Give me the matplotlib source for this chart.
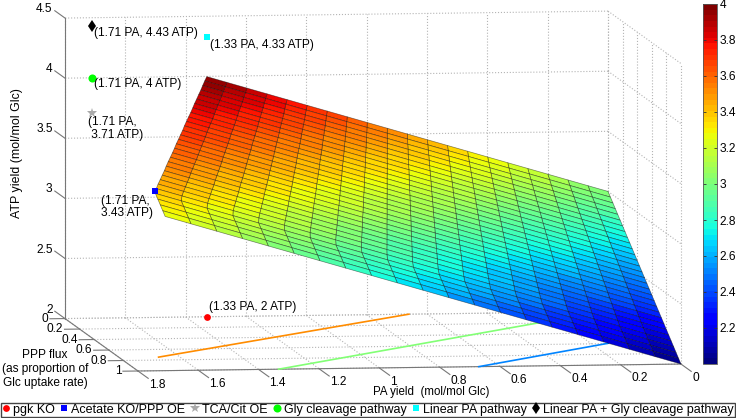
import matplotlib

matplotlib.use("Agg")
import matplotlib.pyplot as plt  # noqa: E402
import numpy as np  # noqa: E402
from mpl_toolkits.mplot3d import proj3d  # noqa: E402

W, H = 736, 418
plt.rcParams["font.family"] = ["Liberation Sans", "DejaVu Sans"]
FS = 8.6
AXIS, GRID = "#777777", "#b4b4b4"

# surface rows, read along the edges of the sheet
ppp_rows = [0, .033, .067, .1, .133, .167, .2, .233, .267, .3, .333, .367, .4, .433, .467, .5,
            .533, .567, .6, .633, .667, .7, .733, .767, .8, .833, .867, .9, .933, .967, 1]
pa_limit = [1.33, 1.345, 1.36, 1.374, 1.389, 1.404, 1.419, 1.433, 1.448, 1.463, 1.478, 1.493,
            1.507, 1.522, 1.537, 1.552, 1.566, 1.581, 1.596, 1.611, 1.626, 1.64, 1.655, 1.67,
            1.685, 1.699, 1.71, 1.71, 1.71, 1.71, 1.71]
atp_at_limit = [3.998, 3.976, 3.953, 3.931, 3.909, 3.886, 3.864, 3.842, 3.819, 3.797, 3.775, 3.753,
                3.73, 3.708, 3.686, 3.664, 3.642, 3.619, 3.597, 3.575, 3.553, 3.53, 3.508, 3.486,
                3.464, 3.441, 3.416, 3.383, 3.35, 3.316, 3.283]
atp_at_zero = [3, 2.967, 2.933, 2.9, 2.867, 2.833, 2.8, 2.767, 2.733, 2.7, 2.667, 2.633, 2.6, 2.567,
               2.533, 2.5, 2.467, 2.433, 2.4, 2.367, 2.333, 2.3, 2.267, 2.233, 2.2, 2.167, 2.133,
               2.1, 2.067, 2.033, 2]

# contours on the floor, only the part the sheet leaves visible
contour_levels = [3.5, 3.0, 2.5]
contour_pa = [[0.66, 1.67], [0.27, 1.334], [0.143, 0.67]]
contour_ppp = [[0.0, 0.745], [0.188, 1.0], [0.593, 1.0]]

point_names = ["pgk KO", "Acetate KO/PPP OE", "TCA/Cit OE", "Gly cleavage pathway",
               "Linear PA pathway", "Linear PA + Gly cleavage pathway"]
point_pa = [1.33, 1.71, 1.71, 1.71, 1.33, 1.71]
point_ppp = [0, 0.857, 0, 0, 0, 0]
point_atp = [2, 3.43, 3.71, 4, 4.33, 4.43]
point_colors = ["#ff0000", "#0000ff", "#aaaaaa", "#00ff00", "#00ffff", "#000000"]
point_markers = ["o", "s", "*", "o", "s", "d"]
point_sizes = [4.9, 4.5, 7, 5.8, 4.7, 6.5]

pa_ticks = [0, 0.2, 0.4, 0.6, 0.8, 1, 1.2, 1.4, 1.6, 1.8]
ppp_ticks = [0, 0.2, 0.4, 0.6, 0.8, 1]
atp_ticks = [2, 2.5, 3, 3.5, 4, 4.5]
cbar_ticks = [2.2, 2.4, 2.6, 2.8, 3, 3.2, 3.4, 3.6, 3.8, 4]


def px(x, y):
    return x / W, 1 - y / H


def fit_axes(ax, left, right, bottom):
    """Move/scale the square 3D axes so the box lands on the wanted pixel edges."""
    cx, cy, cz = zip(*[(a, b, c) for a in (0, 1.8) for b in (0, 1) for c in (2, 4.5)], strict=True)
    xs, ys, _ = proj3d.proj_transform(np.array(cx), np.array(cy), np.array(cz), ax.get_proj())
    ax.apply_aspect()
    pts = ax.transData.transform(np.column_stack([xs, ys]))
    bb = ax.get_position()
    x0, y0, side = bb.x0 * W, bb.y0 * H, bb.width * W
    scale = (right - left) / (pts[:, 0].max() - pts[:, 0].min())
    nx = left - (pts[:, 0].min() - x0) * scale
    ny = bottom - (pts[:, 1].min() - y0) * scale
    ax.set_position([nx / W, ny / H, side * scale / W, side * scale / H])


def tick_label(fig, ax, x, y, z, s, ha):
    """Flat figure text at a 3D position."""
    sx, sy, _ = proj3d.proj_transform(x, y, z, ax.get_proj())
    ax.apply_aspect()
    pos = ax.transData.transform((sx, sy))
    fig.text(pos[0] / W, pos[1] / H, s, ha=ha, va="center", fontsize=FS)


fig = plt.figure(figsize=(W / 100, H / 100), dpi=100)
ax = fig.add_axes([18 / W, -141 / H, 700 / W, 700 / H], projection="3d", computed_zorder=False)
ax.set_proj_type("ortho")
ax.view_init(elev=5.5, azim=82.4)
ax.set_box_aspect((548, 552, 302))
ax.set_xticks([])
ax.set_yticks([])
ax.set_zticks([])
ax.set_axis_off()

# dotted grid on the two walls and the floor
for v in pa_ticks:
    ax.plot([v, v], [0, 0], [2, 4.5], ":", color=GRID, lw=0.8, zorder=1)
    ax.plot([v, v], [0, 1], [2, 2], ":", color=GRID, lw=0.8, zorder=1)
for v in ppp_ticks:
    ax.plot([0, 0], [v, v], [2, 4.5], ":", color=GRID, lw=0.8, zorder=1)
    ax.plot([0, 1.8], [v, v], [2, 2], ":", color=GRID, lw=0.8, zorder=1)
for v in atp_ticks:
    ax.plot([0, 1.8], [0, 0], [v, v], ":", color=GRID, lw=0.8, zorder=1)
    ax.plot([0, 0], [0, 1], [v, v], ":", color=GRID, lw=0.8, zorder=1)

# solid axes and tick marks
ax.plot([1.8, 1.8], [0, 0], [2, 4.5], color=AXIS, lw=0.8, zorder=1.5)
ax.plot([1.8, 1.8], [0, 1], [2, 2], color=AXIS, lw=0.8, zorder=1.5)
ax.plot([0, 1.8], [1, 1], [2, 2], color=AXIS, lw=0.8, zorder=1.5)
for v in pa_ticks:
    ax.plot([v, v], [1, 1.14], [2, 2], color=AXIS, lw=0.8, zorder=1.5)
for v in ppp_ticks:
    ax.plot([1.8, 1.85], [v, v], [2, 2], color=AXIS, lw=0.8, zorder=1.5)
for v in atp_ticks:
    ax.plot([1.8, 1.8], [0, -0.14], [v, v], color=AXIS, lw=0.8, zorder=1.5)

cmap = plt.get_cmap("jet", 64)
norm = plt.Normalize(2, 4)

for level, cpa, cppp in zip(contour_levels, contour_pa, contour_ppp, strict=True):
    ax.plot(cpa, cppp, [2, 2], color=cmap(norm(level)), lw=1.2, zorder=2)

# mesh: 20 cells along PA in every PPP row, so the column lines kink where pa_limit stops growing
frac = np.linspace(0, 1, 21)
rows = np.array(ppp_rows)
limit = np.array(pa_limit)
low, high = np.array(atp_at_zero), np.array(atp_at_limit)
X = np.outer(limit, frac)
Y = np.repeat(rows[:, None], frac.size, axis=1)
Z = low[:, None] + (high - low)[:, None] * frac
ax.plot_surface(X, Y, Z, cmap=cmap, norm=norm, rstride=1, cstride=1, shade=False,
                edgecolor=(0, 0, 0, 0.48), linewidth=0.5, antialiased=True, zorder=3)

for i, name in enumerate(point_names):
    ax.plot([point_pa[i]], [point_ppp[i]], [point_atp[i]], ls="none", marker=point_markers[i],
            color=point_colors[i], ms=point_sizes[i], mew=0, label=name, zorder=4)

ax.set_xlim(0, 1.8, view_margin=0)
ax.set_ylim(0, 1, view_margin=0)
ax.set_zlim(2, 4.5, view_margin=0)
fit_axes(ax, 65, 681, H - 371)

# tick labels, once the axes sit where they should
for v in pa_ticks:
    # whole numbers sit a little left of centre in the reference
    tx = v + 0.015 if float(v).is_integer() else v
    tick_label(fig, ax, tx, 1.26, 2, f"{v:g}", "center")
for v in ppp_ticks:
    tick_label(fig, ax, 1.855, v, 2, f"{v:g}", "right")
for v in atp_ticks:
    tick_label(fig, ax, 1.8, -0.17, v, f"{v:g}", "right")

# point labels
labels = [("(1.71 PA, 4.43 ATP)", 94, 33), ("(1.33 PA, 4.33 ATP)", 210, 45),
          ("(1.71 PA, 4 ATP)", 94, 84), ("(1.71 PA,\n 3.71 ATP)", 88, 128.5),
          ("(1.71 PA,\n3.43 ATP)", 101, 207), ("(1.33 PA, 2 ATP)", 209, 307)]
for s, lx, ly in labels:
    fig.text(*px(lx, ly), s, ha="left", va="center", fontsize=FS, linespacing=1.05)

fig.text(*px(17, 153), "ATP yield (mol/mol Glc)", rotation=90, ha="center", va="center", fontsize=8.9)
for s, ly in [("PPP flux", 355), ("(as proportion of", 369), ("Glc uptake rate)", 383)]:
    fig.text(*px(45, ly), s, ha="center", va="center", fontsize=FS)
fig.text(*px(431, 392.5), "PA yield  (mol/mol Glc)", ha="center", va="center", fontsize=8.3)

# colorbar
cax = fig.add_axes([703 / W, (H - 364) / H, 14 / W, 360 / H])
cb = fig.colorbar(plt.cm.ScalarMappable(norm=norm, cmap=cmap), cax=cax, ticks=cbar_ticks)
cb.ax.set_yticklabels([f"{v:g}" for v in cbar_ticks])
cb.ax.tick_params(direction="in", length=2, width=0.6, left=True, right=True, pad=2, labelsize=FS,
                  color="#333333")
cb.outline.set_edgecolor("#555555")
cb.outline.set_linewidth(0.6)

handles, names = ax.get_legend_handles_labels()
fig.legend(handles, names, loc="lower left", bbox_to_anchor=(1 / W, 1 / H, 734 / W, 14 / H),
           mode="expand", ncol=6, fontsize=9, frameon=True, fancybox=False, edgecolor="#444444",
           framealpha=1, borderpad=0.1, borderaxespad=0, handlelength=0.6, handletextpad=0.25,
           columnspacing=0.1, numpoints=1)

fig.savefig("out.png", dpi=100)
